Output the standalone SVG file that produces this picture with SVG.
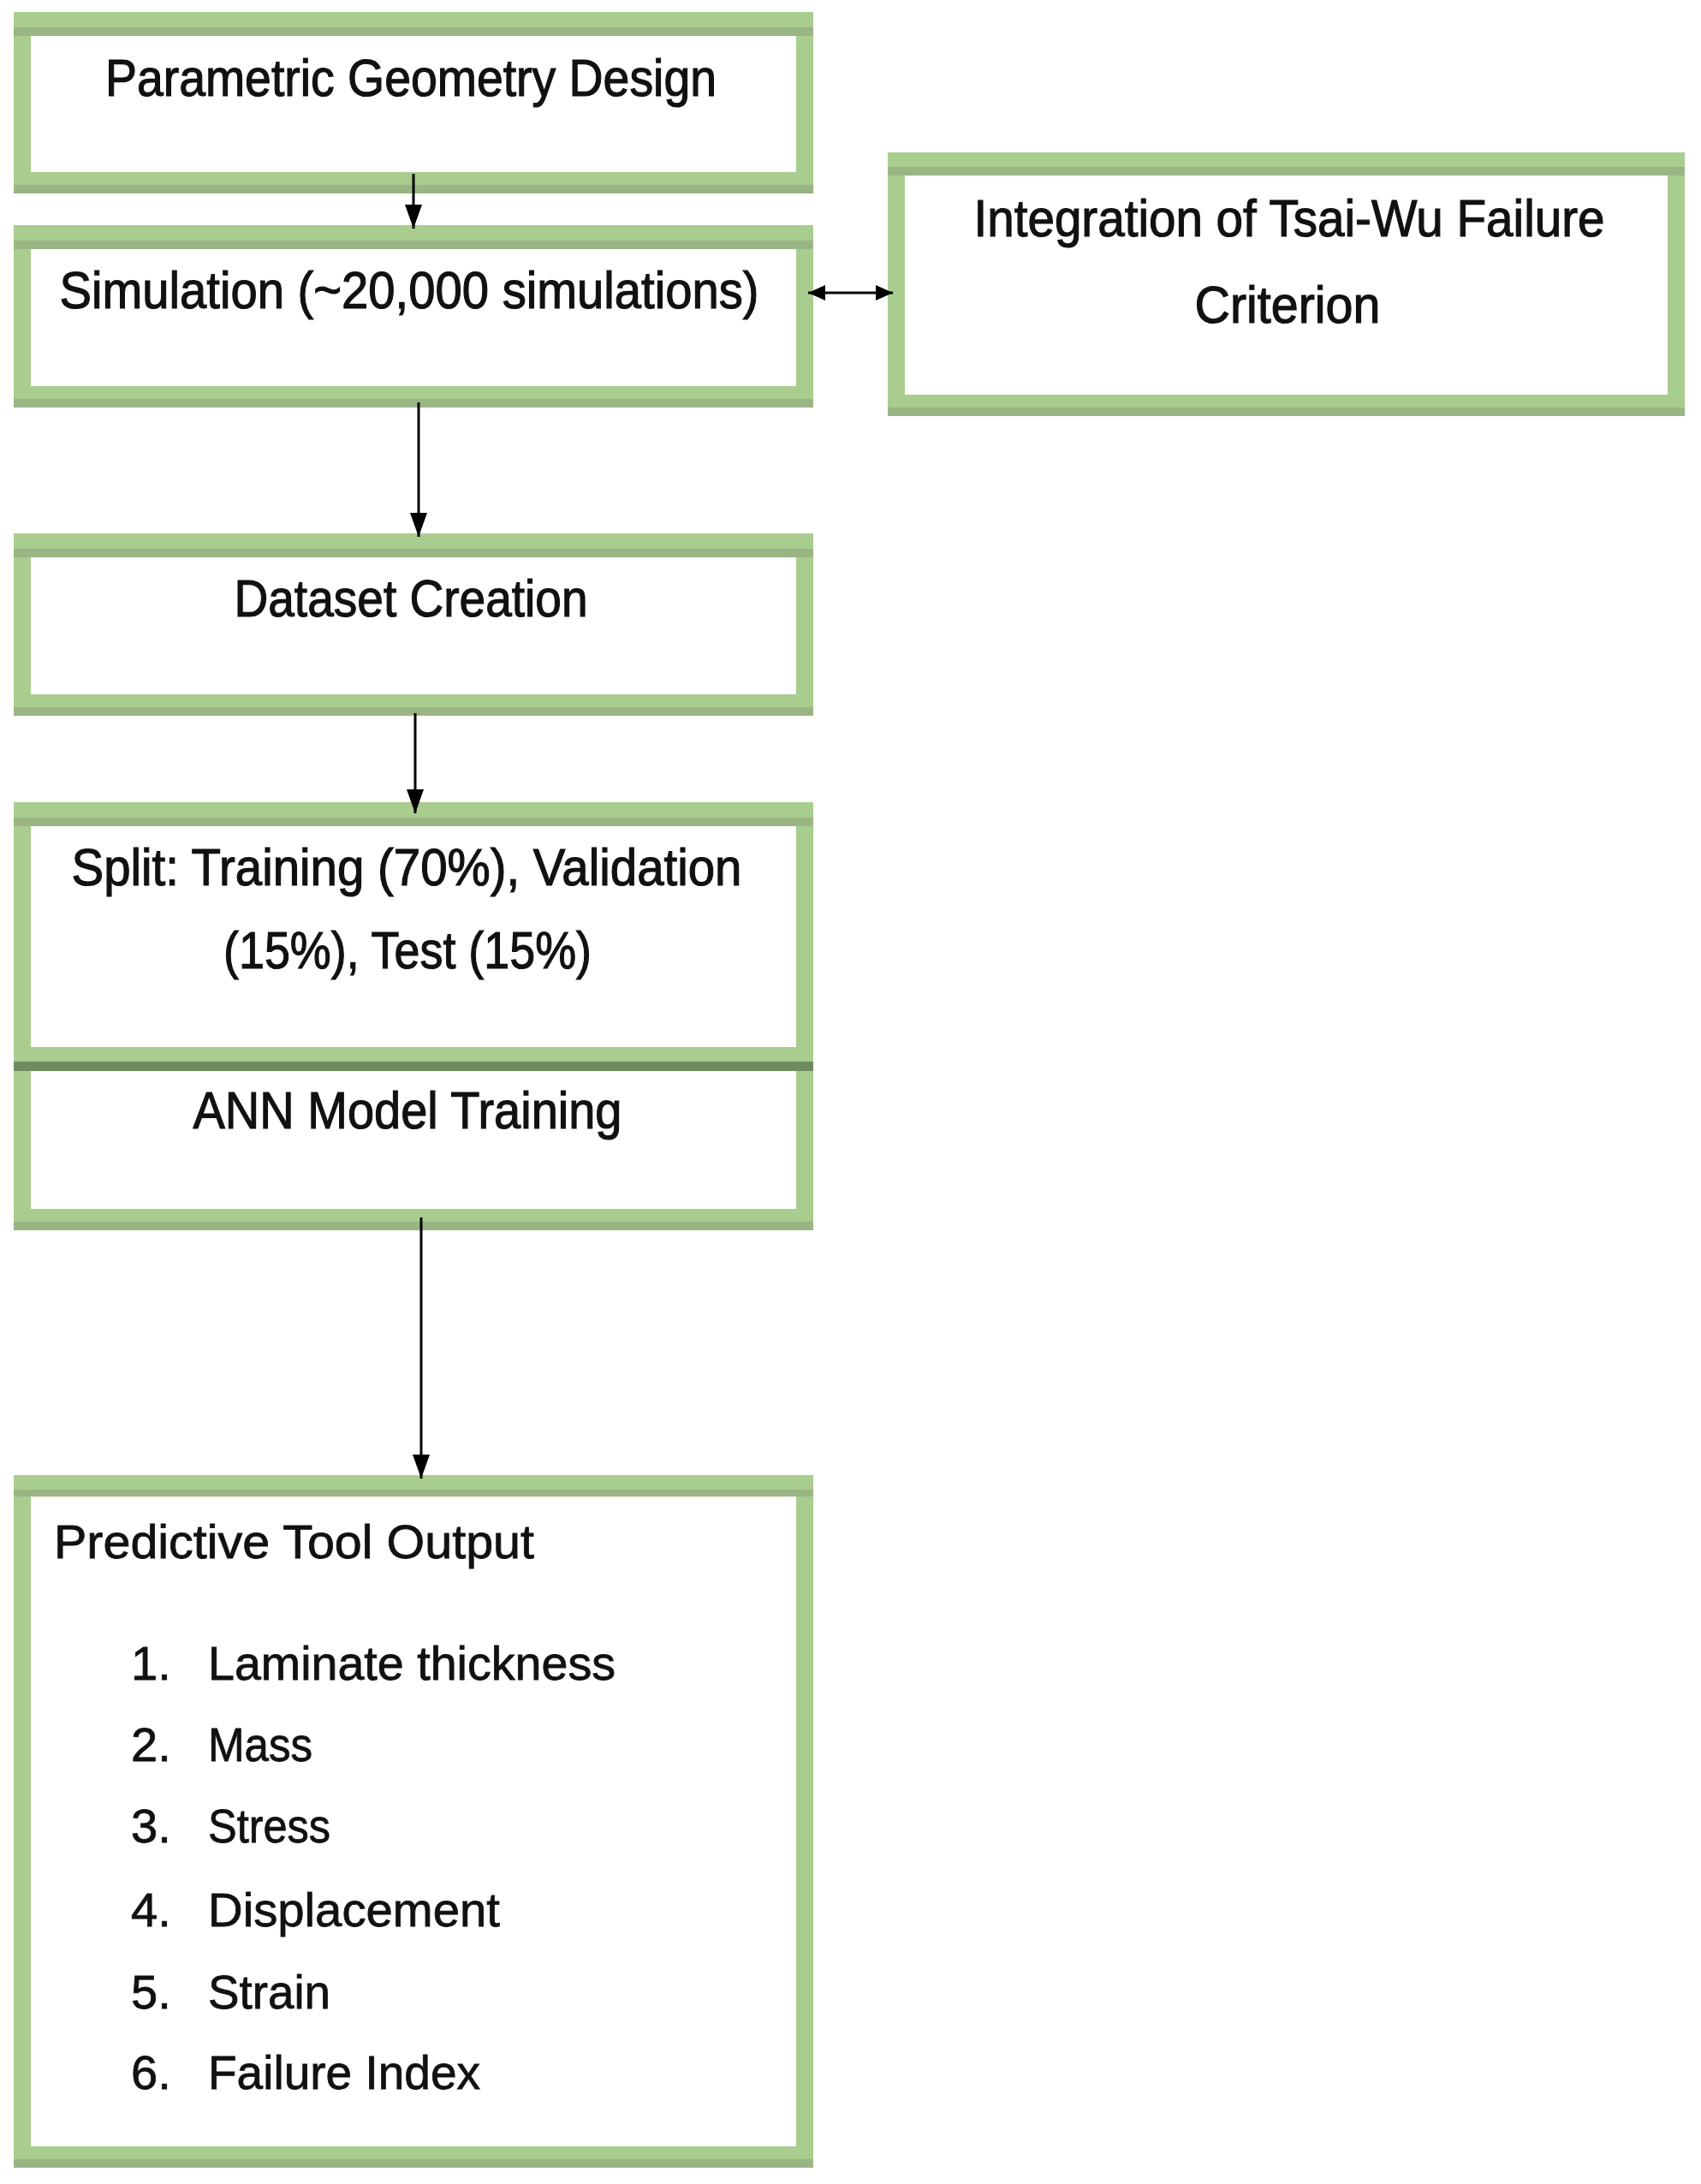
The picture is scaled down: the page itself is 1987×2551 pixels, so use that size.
<svg xmlns="http://www.w3.org/2000/svg" width="1987" height="2551" viewBox="0 0 1987 2551">
  <style>
    .bo { fill: #a9cc8f; }
    .sh { fill: #9ab584; }
    .dk { fill: #6f8b5d; }
    .in { fill: #ffffff; }
    .t { font-family: "Liberation Sans", Arial, sans-serif; font-size: 62px; fill: #111111; stroke: #111111; stroke-width: 1.2; text-anchor: middle; }
    .l { font-family: "Liberation Sans", Arial, sans-serif; font-size: 56px; fill: #111111; stroke: #111111; stroke-width: 0.8; }
    .c { stroke: #000000; stroke-width: 3; fill: none; }
  </style>
  <defs>
    <marker id="ah" markerUnits="userSpaceOnUse" markerWidth="28" markerHeight="20" refX="28" refY="10" orient="auto">
      <path d="M0,0 L28,10 L0,20 z" fill="#000000"/>
    </marker>
    <marker id="ahs" markerUnits="userSpaceOnUse" markerWidth="20" markerHeight="18" refX="20" refY="9" orient="auto-start-reverse">
      <path d="M0,0 L20,9 L0,18 z" fill="#000000"/>
    </marker>
  </defs>
  <rect x="0" y="0" width="1987" height="2551" fill="#ffffff"/>

  <g id="node-parametric">
    <rect class="bo" x="16" y="14" width="934" height="212"/>
    <rect class="sh" x="16" y="32" width="934" height="10"/>
    <rect class="sh" x="16" y="216" width="934" height="10"/>
    <rect class="in" x="36" y="42" width="894" height="159"/>
    <text class="t" x="480" y="112" textLength="714" lengthAdjust="spacingAndGlyphs">Parametric Geometry Design</text>
  </g>

  <g id="node-simulation">
    <rect class="bo" x="16" y="263" width="934" height="213"/>
    <rect class="sh" x="16" y="281" width="934" height="10"/>
    <rect class="sh" x="16" y="466" width="934" height="10"/>
    <rect class="in" x="36" y="291" width="894" height="160"/>
    <text class="t" x="478" y="360" textLength="817" lengthAdjust="spacingAndGlyphs">Simulation (~20,000 simulations)</text>
  </g>

  <g id="node-tsaiwu">
    <rect class="bo" x="1037" y="178" width="931" height="308"/>
    <rect class="sh" x="1037" y="195" width="931" height="10"/>
    <rect class="sh" x="1037" y="476" width="931" height="10"/>
    <rect class="in" x="1057" y="205" width="891" height="256"/>
    <text class="t" x="1506" y="276" textLength="737" lengthAdjust="spacingAndGlyphs">Integration of Tsai-Wu Failure</text>
    <text class="t" x="1504" y="377" textLength="217" lengthAdjust="spacingAndGlyphs">Criterion</text>
  </g>

  <g id="node-dataset">
    <rect class="bo" x="16" y="623" width="934" height="213"/>
    <rect class="sh" x="16" y="641" width="934" height="10"/>
    <rect class="sh" x="16" y="826" width="934" height="10"/>
    <rect class="in" x="36" y="651" width="894" height="160"/>
    <text class="t" x="480" y="720" textLength="413" lengthAdjust="spacingAndGlyphs">Dataset Creation</text>
  </g>

  <g id="node-split">
    <rect class="bo" x="16" y="937" width="934" height="303"/>
    <rect class="sh" x="16" y="955" width="934" height="10"/>
    <rect class="in" x="36" y="965" width="894" height="258"/>
    <text class="t" x="475" y="1034" textLength="783" lengthAdjust="spacingAndGlyphs">Split: Training (70%), Validation</text>
    <text class="t" x="476" y="1131" textLength="430" lengthAdjust="spacingAndGlyphs">(15%), Test (15%)</text>
  </g>

  <g id="node-ann">
    <rect class="bo" x="16" y="1240" width="934" height="197"/>
    <rect class="dk" x="16" y="1240" width="934" height="11"/>
    <rect class="sh" x="16" y="1427" width="934" height="10"/>
    <rect class="in" x="36" y="1251" width="894" height="161"/>
    <text class="t" x="476" y="1318" textLength="501" lengthAdjust="spacingAndGlyphs">ANN Model Training</text>
  </g>

  <g id="node-output">
    <rect class="bo" x="16" y="1723" width="934" height="809"/>
    <rect class="sh" x="16" y="1740" width="934" height="8"/>
    <rect class="sh" x="16" y="2522" width="934" height="10"/>
    <rect class="in" x="36" y="1748" width="894" height="759"/>
    <text class="l" x="63" y="1820" textLength="561" lengthAdjust="spacingAndGlyphs">Predictive Tool Output</text>
    <text class="l" x="153" y="1962">1.</text>
    <text class="l" x="243" y="1962" textLength="476" lengthAdjust="spacingAndGlyphs">Laminate thickness</text>
    <text class="l" x="153" y="2057">2.</text>
    <text class="l" x="243" y="2057" textLength="122" lengthAdjust="spacingAndGlyphs">Mass</text>
    <text class="l" x="153" y="2152">3.</text>
    <text class="l" x="243" y="2152" textLength="143" lengthAdjust="spacingAndGlyphs">Stress</text>
    <text class="l" x="153" y="2250">4.</text>
    <text class="l" x="243" y="2250" textLength="341" lengthAdjust="spacingAndGlyphs">Displacement</text>
    <text class="l" x="153" y="2346">5.</text>
    <text class="l" x="243" y="2346" textLength="143" lengthAdjust="spacingAndGlyphs">Strain</text>
    <text class="l" x="153" y="2440">6.</text>
    <text class="l" x="243" y="2440" textLength="318" lengthAdjust="spacingAndGlyphs">Failure Index</text>
  </g>

  <g id="connectors">
    <line class="c" x1="483" y1="203" x2="483" y2="267" marker-end="url(#ah)"/>
    <line class="c" x1="489" y1="470" x2="489" y2="627" marker-end="url(#ah)"/>
    <line class="c" x1="485" y1="833" x2="485" y2="950" marker-end="url(#ah)"/>
    <line class="c" x1="492" y1="1422" x2="492" y2="1727" marker-end="url(#ah)"/>
    <line class="c" x1="944" y1="342" x2="1043" y2="342" marker-start="url(#ahs)" marker-end="url(#ahs)"/>
  </g>
</svg>
